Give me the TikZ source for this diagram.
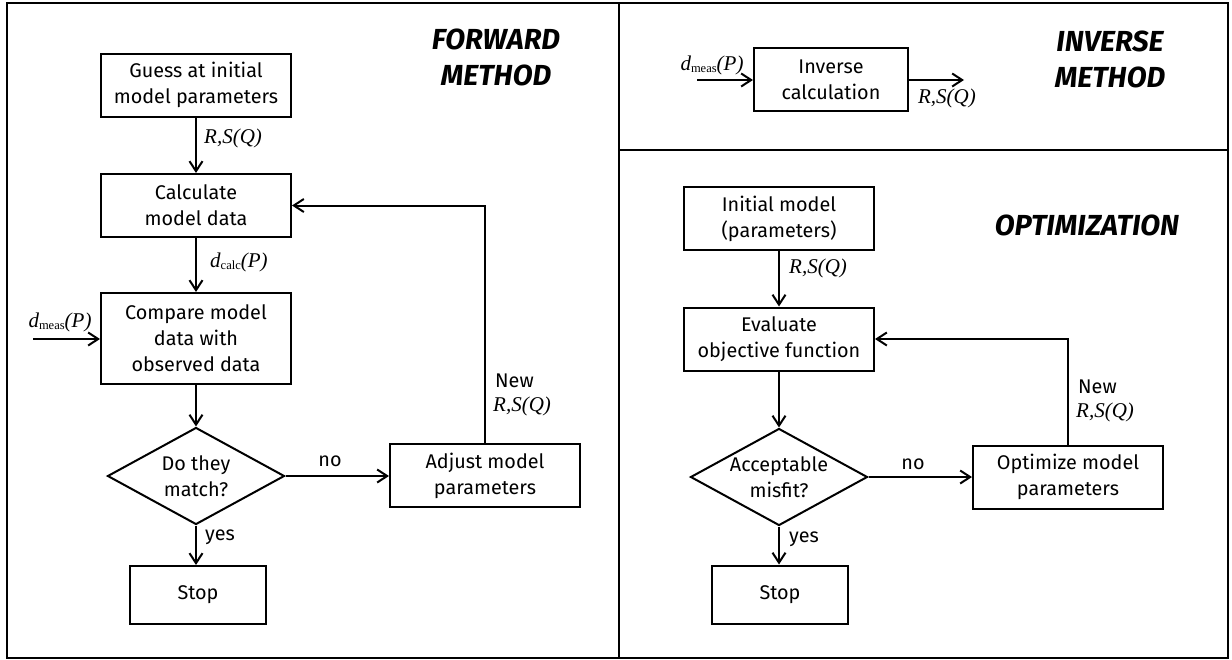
\documentclass[tikz,border=0pt]{standalone}
\usepackage{fontspec}
\setmainfont{Fira Sans}
\newfontfamily\lblserif{Liberation Serif}
\usetikzlibrary{arrows.meta,shapes.geometric}

% italic serif symbols used on the connectors
\newcommand{\rsq}{{\lblserif\itshape R,S(Q)}}
\newcommand{\dsubp}[1]{{\lblserif\itshape d}{\lblserif\fontsize{12.5}{12.5}\selectfont\raisebox{-0.4ex}{#1}}{\lblserif\itshape(P)}}

\tikzset{
  frameline/.style={line width=2.5pt},
  stepbox/.style={draw, line width=2pt, minimum width=190pt, minimum height=63pt,
    inner sep=0pt, align=center, font=\fontsize{19.8}{26}\selectfont},
  tallbox/.style={stepbox, minimum height=91pt},
  stopbox/.style={stepbox, minimum width=136pt, minimum height=58pt},
  invbox/.style={stepbox, minimum width=154pt},
  decision/.style={draw, line width=2pt, diamond, aspect=1.8, minimum width=177pt,
    minimum height=97pt, inner sep=-14pt, align=center, font=\fontsize{19.8}{26}\selectfont},
  flow/.style={line width=2pt, -{Straight Barb[length=10pt,width=13pt]}},
  sym/.style={inner sep=0pt, font=\fontsize{21}{22}\selectfont},
  word/.style={inner sep=0pt, font=\fontsize{19.8}{23}\selectfont},
  heading/.style={inner sep=0pt, align=center, font=\fontsize{29}{36}\selectfont\bfseries\itshape}
}

\begin{document}
\begin{tikzpicture}[x=1pt, y=-1pt]
\useasboundingbox (0,0) rectangle (1232,659);

% panel frames
\draw[frameline] (7,3) rectangle (1228,658);
\draw[frameline] (619,3) -- (619,658);
\draw[frameline] (619,150) -- (1228,150);

% ---------------- forward method ----------------
\node[heading] (fwdtitle) at (496,57) {FORWARD\\METHOD};

\node[stepbox] (guess) at (196,85) {Guess at initial\\model parameters};
\node[stepbox] (calc) at (196,205.5) {Calculate\\model data};
\node[tallbox] (cmp) at (196,338.5) {Compare model\\data with\\observed data};
\node[decision] (match) at (196,476) {Do they\\match?};
\node[stepbox] (adjust) at (485,475.5) {Adjust model\\parameters};
\node[stopbox] (fstop) at (198,595) {Stop};
\coordinate (measin) at (33,339);

\draw[flow] (guess) -- (calc);
\draw[flow] (calc) -- (cmp);
\draw[flow] (measin) -- (cmp.west |- measin);
\draw[flow] (cmp) -- (match);
\draw[flow] (match.east) -- (adjust.west |- match.east);
\draw[flow] (match.south) -- (match.south |- fstop.north);
\draw[flow] (adjust.north) -- (adjust.north |- calc.east) -- (calc.east);

\node[sym, anchor=west] (frsq) at (204,138) {\rsq};
\node[sym, anchor=west] (fcalc) at (210,262) {\dsubp{calc}};
\node[sym] (fmeas) at (60,322) {\dsubp{meas}};
\node[word] (fno) at (330,461) {no};
\node[word, anchor=west] (fyes) at (205,537) {yes};
\node[word, anchor=west] (fnew) at (495,381) {New};
\node[sym, anchor=west] (fnewrsq) at (493,406) {\rsq};

% ---------------- inverse method ----------------
\node[heading] (invtitle) at (1110,59) {INVERSE\\METHOD};

\node[invbox] (inv) at (831,79.5) {Inverse\\calculation};
\coordinate (invin) at (697,80);
\coordinate (invout) at (964,80);
\draw[flow] (invin) -- (inv.west |- invin);
\draw[flow] (inv.east |- invout) -- (invout);
\node[sym] (imeas) at (712,65) {\dsubp{meas}};
\node[sym] (irsq) at (947,98) {\rsq};

% ---------------- optimization ----------------
\node[heading] (opttitle) at (1087,225) {OPTIMIZATION};

\node[stepbox] (init) at (779,218.5) {Initial model\\(parameters)};
\node[stepbox] (eval) at (779,339) {Evaluate\\objective function};
\node[decision] (accept) at (779,477) {Acceptable\\misfit?};
\node[stepbox] (optim) at (1068,477) {Optimize model\\parameters};
\node[stopbox] (ostop) at (780,594.5) {Stop};

\draw[flow] (init) -- (eval);
\draw[flow] (eval) -- (accept);
\draw[flow] (accept.east) -- (optim.west |- accept.east);
\draw[flow] (accept.south) -- (accept.south |- ostop.north);
\draw[flow] (optim.north) -- (optim.north |- eval.east) -- (eval.east);

\node[sym, anchor=west] (orsq) at (789,268) {\rsq};
\node[word] (ono) at (913,464) {no};
\node[word, anchor=west] (oyes) at (789,539) {yes};
\node[word, anchor=west] (onew) at (1078,387) {New};
\node[sym, anchor=west] (onewrsq) at (1076,412) {\rsq};
\end{tikzpicture}
\end{document}
